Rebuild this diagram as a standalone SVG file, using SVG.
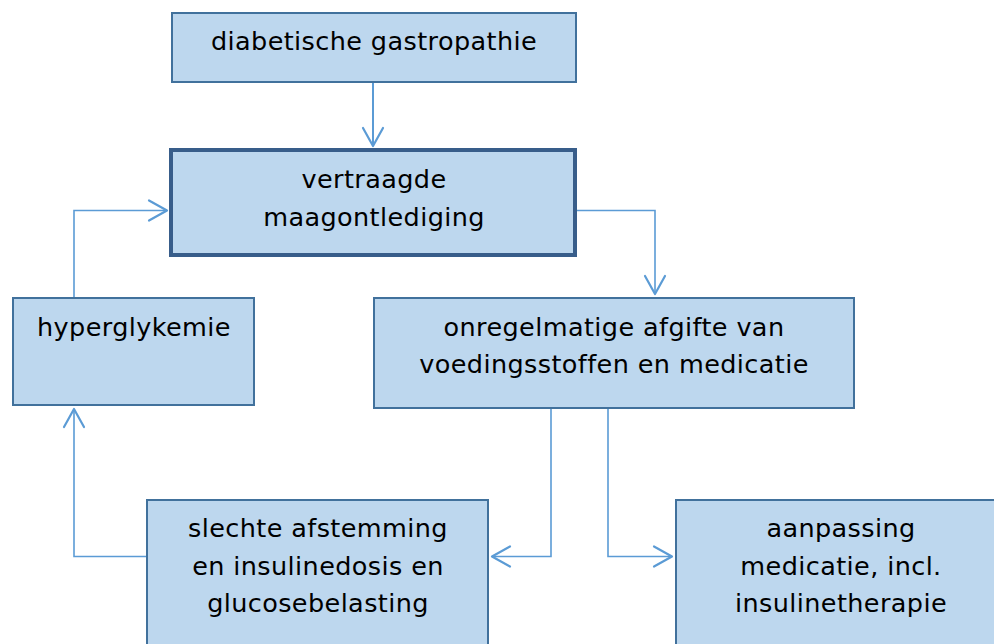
<svg xmlns="http://www.w3.org/2000/svg" width="994" height="644" viewBox="0 0 994 644">
<style>
.box{fill:#bdd7ee;stroke:#41719c;stroke-width:2}
.thick{stroke:#385d8a;stroke-width:4}
.t{font-family:"DejaVu Sans","Verdana",sans-serif;font-size:25.5px;letter-spacing:0.4px;fill:#000;text-anchor:middle}
.c{fill:none;stroke:#5b9bd5;stroke-width:1.6}
</style>
<defs>
<marker id="ah" markerUnits="userSpaceOnUse" markerWidth="24" markerHeight="24" refX="18" refY="10" orient="auto" overflow="visible">
<path d="M0,0 L18,10 L0,20" fill="none" stroke="#5b9bd5" stroke-width="2.2" stroke-linejoin="round" stroke-linecap="round"/>
</marker>
</defs>
<rect width="994" height="644" fill="#fff"/>
<g id="connectors">
<path class="c" style="stroke-width:2" d="M373,83 L373,146" marker-end="url(#ah)"/>
<path class="c" d="M74,297 L74,210.5 L167,210.5" marker-end="url(#ah)"/>
<path class="c" d="M577,210.5 L655,210.5 L655,294" marker-end="url(#ah)"/>
<path class="c" d="M146,556.5 L74,556.5 L74,409" marker-end="url(#ah)"/>
<path class="c" d="M551,408 L551,556.5 L492,556.5" marker-end="url(#ah)"/>
<path class="c" d="M608,408 L608,556.5 L672,556.5" marker-end="url(#ah)"/>
</g>
<g id="n1">
<rect class="box" x="172" y="13" width="404" height="69"/>
<text class="t" x="374" y="50">diabetische gastropathie</text>
</g>
<g id="n2">
<rect class="box thick" x="171" y="150" width="404" height="105"/>
<text class="t" x="374" y="188">vertraagde</text>
<text class="t" x="374" y="226">maagontlediging</text>
</g>
<g id="n3">
<rect class="box" x="13" y="298" width="241" height="107"/>
<text class="t" x="134" y="336">hyperglykemie</text>
</g>
<g id="n4">
<rect class="box" x="374" y="298" width="480" height="110"/>
<text class="t" x="614" y="336">onregelmatige afgifte van</text>
<text class="t" x="614" y="373">voedingsstoffen en medicatie</text>
</g>
<g id="n5">
<rect class="box" x="147" y="500" width="341" height="160"/>
<text class="t" x="318" y="537">slechte afstemming</text>
<text class="t" x="318" y="575">en insulinedosis en</text>
<text class="t" x="318" y="612">glucosebelasting</text>
</g>
<g id="n6">
<rect class="box" x="676" y="500" width="340" height="160"/>
<text class="t" x="841" y="537">aanpassing</text>
<text class="t" x="841" y="575">medicatie, incl.</text>
<text class="t" x="841" y="612">insulinetherapie</text>
</g>
</svg>
